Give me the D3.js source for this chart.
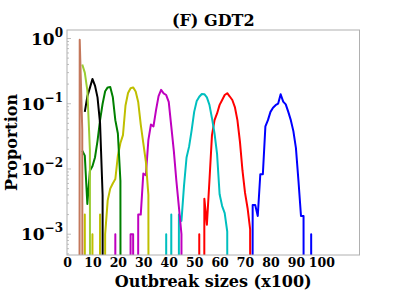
<!DOCTYPE html>
<html>
<head>
<meta charset="utf-8">
<script src="https://cdn.jsdelivr.net/npm/d3@7"></script>
<style>
  body { margin: 0; background: #fff; }
  text { font-family: "DejaVu Serif", serif; font-weight: bold; fill: #000; }
</style>
</head>
<body>
<svg id="chart" width="399" height="300"></svg>
<script>
// proportions per outbreak size bin (x100), each list starts at its own bin
// a 0 means no outbreak of that size -> drawn down off the log axis
const brownStart = 4;
const brownVals = [0, 0.96, 0.04, 0];
const ygreenStart = 6;
const ygreenVals = [0.4, 0.3, 0.16, 0.02, 0];
const blackStart = 7;
const blackVals = [0.075, 0.13, 0.175, 0.24, 0.19, 0.125, 0.05, 0.004, 0];
const greenStart = 6;
const greenVals = [0.019, 0.016, 0.0029, 0.0094, 0.011, 0.015, 0.027, 0.056, 0.1, 0.155, 0.178, 0.18, 0.127, 0.056, 0.035, 0.0066, 0];
const yellowStart = 6;
const yellowVals = [0, 0.002, 0, 0, 0.001, 0, 0, 0.002, 0, 0.001, 0.0033, 0.005, 0.006, 0.007, 0.016, 0.025, 0.033, 0.094, 0.146, 0.173, 0.178, 0.154, 0.106, 0.048, 0.025, 0.013, 0.004, 0];
const magentaStart = 18;
const magentaVals = [0, 0.001, 0, 0, 0, 0, 0, 0.001, 0.001, 0, 0.002, 0.002, 0.0085, 0.008, 0.028, 0.048, 0.045, 0.08, 0.131, 0.163, 0.144, 0.136, 0.107, 0.045, 0.019, 0.0066, 0.0026, 0.001, 0];
const cyanStart = 38;
const cyanVals = [0, 0.001, 0, 0.002, 0, 0, 0.002, 0.0016, 0.0055, 0.015, 0.022, 0.039, 0.075, 0.11, 0.128, 0.141, 0.14, 0.125, 0.096, 0.06, 0.035, 0.017, 0.0041, 0.0027, 0.0021, 0.0011, 0];
const redStart = 51;
const redVals = [0, 0.001, 0, 0.0035, 0.0014, 0.0066, 0.033, 0.056, 0.071, 0.096, 0.114, 0.136, 0.145, 0.129, 0.114, 0.089, 0.056, 0.026, 0.0094, 0.0043, 0.0025, 0.0012, 0];
const blueStart = 72;
const blueVals = [0, 0.0028, 0.0028, 0.0019, 0.0083, 0.0083, 0.045, 0.056, 0.075, 0.087, 0.095, 0.1, 0.14, 0.108, 0.098, 0.075, 0.056, 0.038, 0.021, 0.0066, 0.0019, 0.0019, 0, 0, 0.001, 0];

const xTicks = [0, 10, 20, 30, 40, 50, 60, 70, 80, 90, 100];
const yTicks = [1, 0.1, 0.01, 0.001];
const yExps = ['0', '\u22121', '\u22122', '\u22123'];

// plotted back to front
const series = [
  {start: blueStart, vals: blueVals, color: '#0000ff'},
  {start: redStart, vals: redVals, color: '#ff0000'},
  {start: cyanStart, vals: cyanVals, color: '#00bfbf'},
  {start: magentaStart, vals: magentaVals, color: '#bf00bf'},
  {start: yellowStart, vals: yellowVals, color: '#bfbf00'},
  {start: greenStart, vals: greenVals, color: '#008000'},
  {start: blackStart, vals: blackVals, color: '#000000'},
  {start: ygreenStart, vals: ygreenVals, color: '#9acd32'},
  {start: brownStart, vals: brownVals, color: '#c4785c'}
];

const svg = d3.select('#chart');
const margin = {top: 30, right: 39.5, bottom: 45, left: 67};
const width = 399 - margin.left - margin.right;
const height = 300 - margin.top - margin.bottom;

const x = d3.scaleLinear().domain([0, 115]).range([0, width]);
const y = d3.scaleLog().domain([4.8e-4, 1.35]).range([height, 0]);

const g = svg.append('g').attr('transform', `translate(${margin.left},${margin.top})`);

g.append('clipPath').attr('id', 'plotclip')
  .append('rect').attr('width', width).attr('height', height);

// minor + major ticks on the log axis, inside the frame
const minor = [];
for (let k = -4; k <= 0; k++) {
  for (let m = 1; m <= 9; m++) {
    const v = m * Math.pow(10, k);
    if (v >= y.domain()[0] && v <= y.domain()[1]) minor.push({v: v, major: m === 1});
  }
}
g.selectAll('.ytick').data(minor).enter().append('line')
  .attr('class', 'ytick')
  .attr('x1', 0).attr('x2', d => d.major ? 4 : 2)
  .attr('y1', d => y(d.v)).attr('y2', d => y(d.v))
  .attr('stroke', '#b0b0b0').attr('stroke-width', 0.8);

const line = d3.line()
  .x(d => x(d[0]))
  .y(d => d[1] > 0 ? y(d[1]) : height + 3000);

const lines = g.append('g').attr('clip-path', 'url(#plotclip)');
series.forEach(s => {
  const pts = s.vals.map((v, i) => [s.start + i, v]);
  lines.append('path')
    .attr('d', line(pts))
    .attr('fill', 'none')
    .attr('stroke', s.color)
    .attr('stroke-width', 2)
    .attr('stroke-linejoin', 'round');
});

// frame
g.append('rect').attr('width', width).attr('height', height)
  .attr('fill', 'none').attr('stroke', '#b0b0b0').attr('stroke-width', 1);

// x axis labels
const xAxis = g.append('g').attr('transform', `translate(0,${height})`)
  .call(d3.axisBottom(x).tickValues(xTicks).tickSize(0).tickPadding(3));
xAxis.select('.domain').remove();
xAxis.selectAll('text').style('font-size', '12.5px').style('font-family', '"DejaVu Serif", serif').style('font-weight', 'bold');

// y axis labels as 10^k
const yl = g.selectAll('.ylab').data(yTicks).enter().append('text')
  .attr('class', 'ylab')
  .attr('x', -4)
  .attr('y', d => y(d) + 6)
  .attr('text-anchor', 'end');
yl.append('tspan').style('font-size', '17px').text('10');
yl.append('tspan').style('font-size', '12px').attr('dy', -8).text((d, i) => yExps[i]);

svg.append('text')
  .attr('x', margin.left + width / 2).attr('y', 26)
  .attr('text-anchor', 'middle').style('font-size', '16px')
  .text('(F) GDT2');

svg.append('text')
  .attr('x', margin.left + width / 2).attr('y', 287)
  .attr('text-anchor', 'middle').style('font-size', '16px')
  .text('Outbreak sizes (x100)');

svg.append('text')
  .attr('transform', `translate(17,${margin.top + height / 2}) rotate(-90)`)
  .attr('text-anchor', 'middle').style('font-size', '16px')
  .text('Proportion');
</script>
</body>
</html>
